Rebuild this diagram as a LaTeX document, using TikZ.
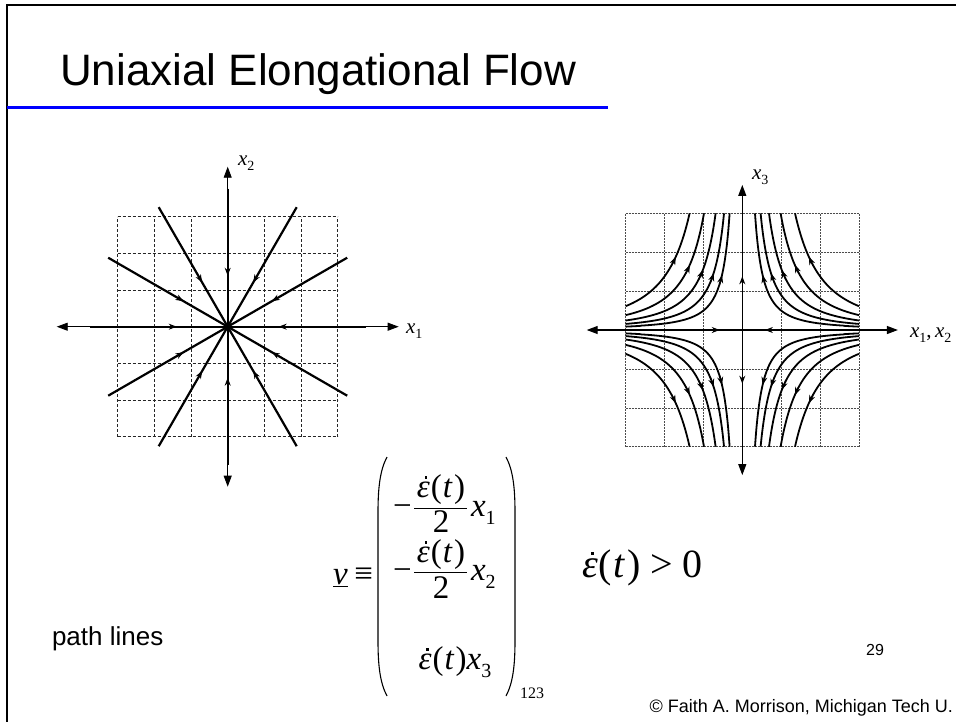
\documentclass[tikz,border=0pt]{standalone}
\usepackage{fontspec}
\setmainfont{Liberation Sans}
\newfontfamily\tms{Liberation Serif}
\usetikzlibrary{arrows.meta}
\newcommand\edot{\makebox[0pt][l]{\kern0.23em\raisebox{0.56em}{\rule{0.075em}{0.075em}}}ε}
\newcommand\epst{{\itshape\edot}\kern0.03em(\kern0.03em{\itshape t}\kern0.06em)}
\newcommand\sbs[2]{\raisebox{-0.25em}{\fontsize{#1}{#1}\selectfont #2}}
\tikzset{
  txt/.style={inner sep=0pt, outer sep=0pt},
  mth/.style={txt, font=\tms\fontsize{33}{36}\selectfont},
  griddashL/.style={line width=0.6pt, dash pattern=on 3pt off 2pt, black!85},
  griddashR/.style={line width=0.6pt, dash pattern=on 2pt off 1pt, black!70},
  axisL/.style={line width=0.9pt},
  axisR/.style={line width=1.2pt},
  ray/.style={line width=2.2pt},
  flow/.style={line width=1.8pt},
  endtip/.style={{Triangle[length=11pt,width=8pt]}-{Triangle[length=11pt,width=8pt]}},
  smalltip/.style={-{Stealth[length=8pt,width=6pt]}},
  flowtip/.style={line width=0.8pt, -{Stealth[length=8pt,width=6pt]}},
}
\begin{document}
\begin{tikzpicture}[x=1pt,y=-1pt]
\useasboundingbox (0,0) rectangle (956,721);
% frame and title
\draw[line width=2pt] (7,723) -- (7,5) -- (958,5);
\draw[line width=3pt, blue] (7,107.5) -- (608,107.5);
\node[txt, anchor=base west, font=\fontsize{44}{48}\selectfont] (title) at (60,85) {Uniaxial Elongational Flow};

% ---------- left diagram ----------
\begin{scope}[shift={(227.7,326.7)}, x=1pt, y=1pt]
  \foreach \i in {-3,...,3} {
    \draw[griddashL] (\i*36.67,-110) -- (\i*36.67,110);
    \draw[griddashL] (-110,\i*36.67) -- (110,\i*36.67);
  }
  \draw[axisL, endtip] (-171,0) -- (171,0);
  \draw[axisL, endtip] (0,160) -- (0,-160);
  \foreach \a in {0,30,...,330} {
    \draw[ray] (\a:138) -- (0,0);
    \draw[flowtip] (\a:62) -- (\a:51);
  }
\end{scope}
\node[txt, font=\tms\itshape\fontsize{21}{24}\selectfont, anchor=base west] (lx2) at (238,165) {x\sbs{14}{\upshape 2}};
\node[txt, font=\tms\itshape\fontsize{21}{24}\selectfont, anchor=base west] (lx1) at (406,333) {x\sbs{14}{\upshape 1}};

% ---------- right diagram ----------
\begin{scope}[shift={(742.3,330)}, x=38.9pt, y=38.9pt]
  \foreach \i in {-3,...,3} {
    \draw[griddashR] (\i,-3) -- (\i,3);
    \draw[griddashR] (-3,\i) -- (3,\i);
  }
  \draw[axisR, endtip] (-4.0,0) -- (4.0,0);
  \draw[axisR, endtip] (0,-3.73) -- (0,3.73);
  \draw[axisR, smalltip] (0,1.05) -- (0,1.38);
  \draw[axisR, smalltip] (0,-1.05) -- (0,-1.38);
  \draw[axisR, smalltip] (-0.9,0) -- (-0.58,0);
  \draw[axisR, smalltip] (0.9,0) -- (0.58,0);
  \foreach \sx/\sy in {1/1,-1/1,1/-1,-1/-1} {
    \begin{scope}[xscale=\sx, yscale=\sy]
      \foreach \xt/\n/\za in {1.355/2.0/1.88, 0.985/1.85/1.67, 0.686/1.7/1.54, 0.47/1.6/1.46, 0.326/1.6/1.41} {
        \pgfmathsetmacro\xa{\xt*(3/\za)^(1/\n)}
        \pgfmathsetmacro\slp{\n*\za/\xa}
        \pgfmathsetmacro\nrm{sqrt(1+\slp*\slp)}
        \draw[flow] plot[domain=\xt:3, samples=80, smooth] (\x, {3*(\xt/\x)^\n});
        \draw[flowtip] ({\xa+0.25/\nrm},{\za-0.25*\slp/\nrm}) -- (\xa,\za);
      }
    \end{scope}
  }
\end{scope}
\node[txt, font=\tms\itshape\fontsize{21}{24}\selectfont, anchor=base west] (rx3) at (752,179) {x\sbs{14}{\upshape 3}};
\node[txt, font=\tms\itshape\fontsize{21}{24}\selectfont, anchor=base west] (rx12) at (910,337) {x\sbs{14}{\upshape 1}{\upshape ,}\,x\sbs{14}{\upshape 2}};

% ---------- equation ----------
\draw[line width=1.1pt] (387,457) .. controls (380,470) and (378,488) .. (378,512) -- (378,641) .. controls (378,665) and (380,683) .. (387,696);
\draw[line width=1.1pt] (506,457) .. controls (513,470) and (515,488) .. (515,512) -- (515,641) .. controls (515,665) and (513,683) .. (506,696);
\node[mth, anchor=base east] (vdef) at (373,584) {{\itshape\underline{v}}\kern0.2em≡};
% row 1
\node[mth, anchor=base] (m1) at (402.5,516) {−};
\node[mth, anchor=base] (n1) at (441,497) {\epst};
\draw[line width=1pt] (414,508) -- (467,508);
\node[mth, anchor=base] (d1) at (441,532) {2};
\node[mth, anchor=base west] (x1) at (471,516) {{\itshape x}\sbs{20}{1}};
% row 2
\node[mth, anchor=base] (m2) at (402.5,580) {−};
\node[mth, anchor=base] (n2) at (441,562) {\epst};
\draw[line width=1pt] (414,572) -- (467,572);
\node[mth, anchor=base] (d2) at (441,598) {2};
\node[mth, anchor=base west] (x2) at (471,580) {{\itshape x}\sbs{20}{2}};
% row 3
\node[mth, anchor=base] (r3) at (455,669) {\epst{\itshape x}\sbs{20}{3}};
\node[txt, font=\tms\fontsize{16}{18}\selectfont, anchor=base west] (basis) at (520,698) {123};
\node[txt, font=\tms\fontsize{40}{42}\selectfont, anchor=base west] (pos) at (582,577) {\epst\ > 0};

% ---------- footer ----------
\node[txt, anchor=base west, font=\fontsize{26}{30}\selectfont] (pl) at (52,645) {path lines};
\node[txt, anchor=base east, font=\fontsize{16}{18}\selectfont] (pg) at (884,655) {29};
\node[txt, anchor=base east, font=\fontsize{18}{20}\selectfont] (copy) at (953,712) {© Faith A. Morrison, Michigan Tech U.};
\end{tikzpicture}
\end{document}
